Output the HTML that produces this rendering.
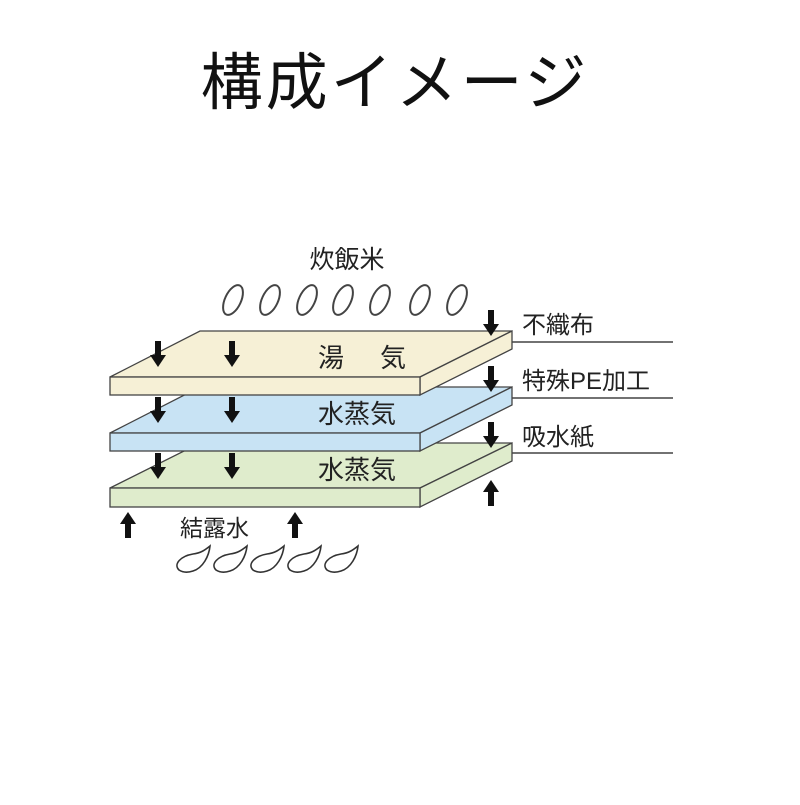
<!DOCTYPE html>
<html><head><meta charset="utf-8"><style>
body{margin:0;background:#fff;width:800px;height:800px;overflow:hidden}
text{font-family:"Liberation Sans","Noto Sans CJK JP",sans-serif;fill:#222}
</style></head><body>
<svg width="800" height="800" viewBox="0 0 800 800">
<defs>
<g id="ad"><rect x="-3" y="-17" width="6" height="17" fill="#111"/><polygon points="-8,-3 8,-3 0,9" fill="#111"/></g>
<g id="au"><rect x="-3" y="0" width="6" height="17" fill="#111"/><polygon points="-8,3 8,3 0,-9" fill="#111"/></g>
<g id="rice"><ellipse rx="8" ry="16" fill="none" stroke="#444" stroke-width="2" transform="rotate(25)"/></g>
<g id="drop"><path d="M-14,10 C-20,4 -12,-4 0,-6 C8,-7 12,-10 17,-14 C16,-4 10,8 0,11 C-6,13 -11,12 -14,10 Z" fill="none" stroke="#333" stroke-width="1.6"/></g>
</defs>
<text x="395" y="104" font-size="62" text-anchor="middle" letter-spacing="3" style="fill:#111">構成イメージ</text>
<text x="347" y="268" font-size="25" text-anchor="middle">炊飯米</text>
<use href="#rice" x="233" y="300"/><use href="#rice" x="270" y="300"/><use href="#rice" x="307" y="300"/><use href="#rice" x="343" y="300"/><use href="#rice" x="380" y="300"/><use href="#rice" x="420" y="300"/><use href="#rice" x="457" y="300"/>
<g stroke="#444" stroke-width="1.5">
<line x1="505" y1="342" x2="673" y2="342"/><line x1="505" y1="398" x2="673" y2="398"/><line x1="505" y1="453" x2="673" y2="453"/>
</g>
<g stroke="#444" stroke-width="1.3">
<polygon points="110,488 200,443 512,443 420,488" fill="#dfeccc"/>
<polygon points="420,488 512,443 512,461 420,507" fill="#dfeccc"/>
<rect x="110" y="488" width="310" height="19" fill="#dfeccc"/>
<polygon points="110,433 200,387 512,387 420,433" fill="#c8e3f4"/>
<polygon points="420,433 512,387 512,405 420,451" fill="#c8e3f4"/>
<rect x="110" y="433" width="310" height="18" fill="#c8e3f4"/>
<polygon points="110,377 200,331 512,331 420,377" fill="#f6f0d6"/>
<polygon points="420,377 512,331 512,349 420,395" fill="#f6f0d6"/>
<rect x="110" y="377" width="310" height="18" fill="#f6f0d6"/>
</g>
<text x="318" y="367" font-size="26">湯</text><text x="380" y="367" font-size="26">気</text>
<text x="318" y="423" font-size="26">水蒸気</text>
<text x="318" y="479" font-size="26">水蒸気</text>
<use href="#ad" x="158" y="358"/><use href="#ad" x="232" y="358"/>
<use href="#ad" x="158" y="414"/><use href="#ad" x="232" y="414"/>
<use href="#ad" x="158" y="470"/><use href="#ad" x="232" y="470"/>
<use href="#ad" x="491" y="327"/><use href="#ad" x="491" y="383"/><use href="#ad" x="491" y="439"/>
<use href="#au" x="491" y="489"/>
<text x="522" y="333" font-size="24">不織布</text>
<text x="522" y="389" font-size="24">特殊PE加工</text>
<text x="522" y="445" font-size="24">吸水紙</text>
<use href="#au" x="128" y="521"/><use href="#au" x="295" y="521"/>
<text x="180" y="536" font-size="23">結露水</text>
<use href="#drop" x="193" y="560"/><use href="#drop" x="230" y="560"/><use href="#drop" x="267" y="560"/><use href="#drop" x="304" y="560"/><use href="#drop" x="341" y="560"/>
</svg>
</body></html>
